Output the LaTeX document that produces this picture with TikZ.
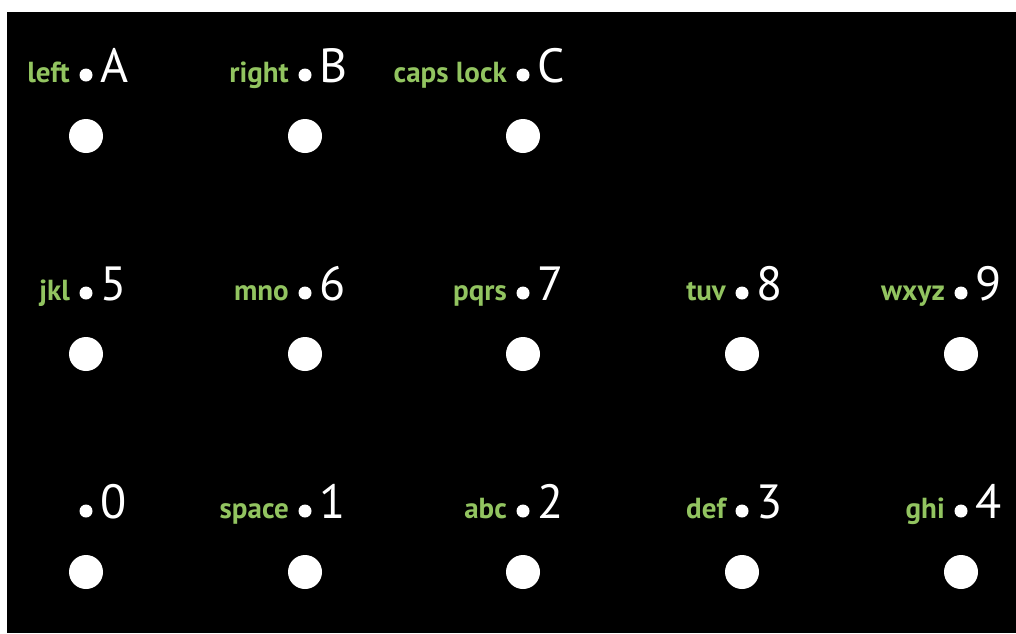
\documentclass[tikz,border=0pt]{standalone}
\usepackage{fontspec}
\setmainfont{PT Sans}
\definecolor{keygreen}{RGB}{146,196,96}
\tikzset{
  bigdot/.style={circle, fill=white, draw=none, minimum size=34pt, inner sep=0pt},
  smalldot/.style={circle, fill=white, draw=none, minimum size=13pt, inner sep=0pt},
  keylabel/.style={anchor=base east, inner sep=0pt, text=keygreen, font=\bfseries\fontsize{29}{29}\selectfont},
  keychar/.style={anchor=base west, inner sep=0pt, text=white, font=\fontsize{48}{48}\selectfont},
}
\begin{document}
\begin{tikzpicture}[x=1pt,y=-1pt]
\useasboundingbox (0,0) rectangle (1016,633);
\fill[white] (0,0) rectangle (1016,633);
\fill[black] (7,12) rectangle (1016,633);
\foreach \cx/\by/\lab/\ch/\nm in {
  86/82/left/A/a, 305/82/right/B/b, 523/82/caps lock/C/c,
  86/300/jkl/5/k5, 305/300/mno/6/k6, 523/300/pqrs/7/k7, 742/300/tuv/8/k8, 961/300/wxyz/9/k9,
  86/518//0/k0, 305/518/space/1/k1, 523/518/abc/2/k2, 742/518/def/3/k3, 961/518/ghi/4/k4}{
  \node[smalldot] (s-\nm) at (\cx,\by-7) {};
  \node[keylabel] (l-\nm) at (\cx-16,\by) {\lab};
  \node[keychar] (c-\nm) at (\cx+14,\by) {\ch};
  \node[bigdot] (d-\nm) at (\cx,\by+54) {};
}
\end{tikzpicture}
\end{document}
